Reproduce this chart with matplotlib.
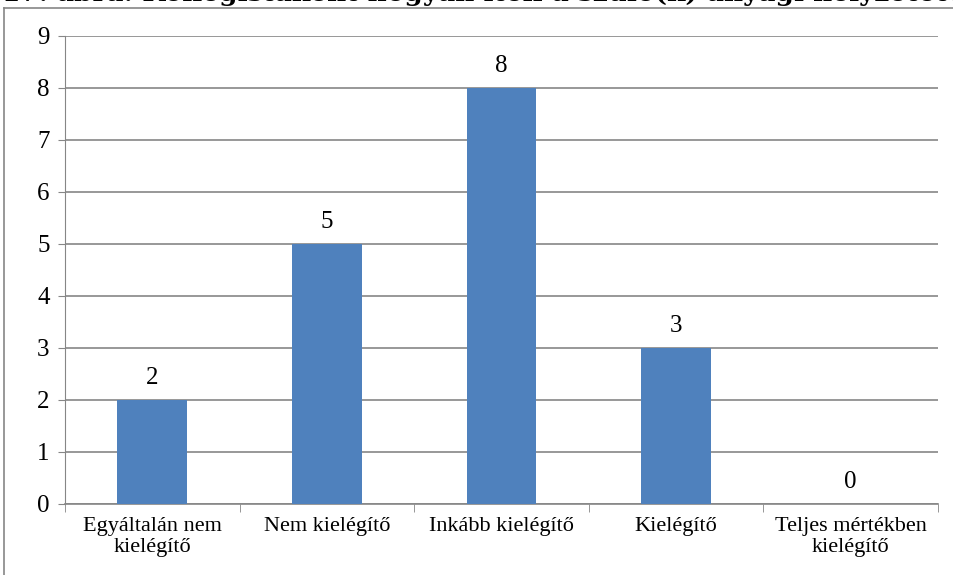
import matplotlib

matplotlib.use("Agg")
import matplotlib.pyplot as plt
from matplotlib.lines import Line2D

categories = ["Egyáltalán nem\nkielégítő", "Nem kielégítő", "Inkább kielégítő",
              "Kielégítő", "Teljes mértékben\nkielégítő"]
counts = [2, 5, 8, 3, 0]
yticks = list(range(0, 10))
title = "17. ábra: Kollégistaként hogyan ítéli a szülő(k) anyagi helyzetét? (N=18) (fő)"

plt.rcParams["font.family"] = ["Liberation Serif", "DejaVu Serif"]

fig = plt.figure(figsize=(9.54, 5.75), dpi=100)
ax = fig.add_axes([65 / 954, 71 / 575, 873 / 954, 468 / 575])

x = list(range(len(counts)))
ax.bar(x, counts, width=0.4, color="#4F81BD", zorder=3)
for xi, v in zip(x, counts):
    ax.text(xi, v + 0.22, str(v), ha="center", va="bottom", fontsize=18, color="black")

ax.set_xlim(-0.5, len(counts) - 0.5)
ax.set_ylim(0, 9)
ax.set_yticks(yticks)
ax.set_yticklabels([str(t) for t in yticks], fontsize=18)
ax.yaxis.grid(True, color="#868686", lw=1.2, zorder=0)
ax.set_xticks(x)
ax.set_xticklabels(categories, fontsize=16, linespacing=1.2)
ax.set_xticks([i - 0.5 for i in range(len(counts) + 1)], minor=True)
ax.tick_params(axis="x", which="major", length=0, pad=9)
ax.tick_params(axis="x", which="minor", length=6, color="#868686")
ax.tick_params(axis="y", length=5, color="#868686", pad=6)
for side in ("top", "right"):
    ax.spines[side].set_visible(False)
ax.spines["left"].set_color("#868686")
ax.spines["bottom"].set_color("#868686")
ax.spines["bottom"].set_linewidth(1.2)

# outer chart frame (right and bottom edges are cut off)
fig.add_artist(Line2D([4 / 954, 4 / 954], [0, 1 - 8 / 575], color="#868686", lw=1.2))
fig.add_artist(Line2D([4 / 954, 1], [1 - 8 / 575, 1 - 8 / 575], color="#868686", lw=1.2))

# caption above the chart, cropped at the top edge as in the source
fig.text(2 / 954, 1 - 1 / 575, title, ha="left", va="baseline", fontsize=19,
         fontweight="bold", family=["DejaVu Serif"])

fig.savefig("out.png", dpi=100)
